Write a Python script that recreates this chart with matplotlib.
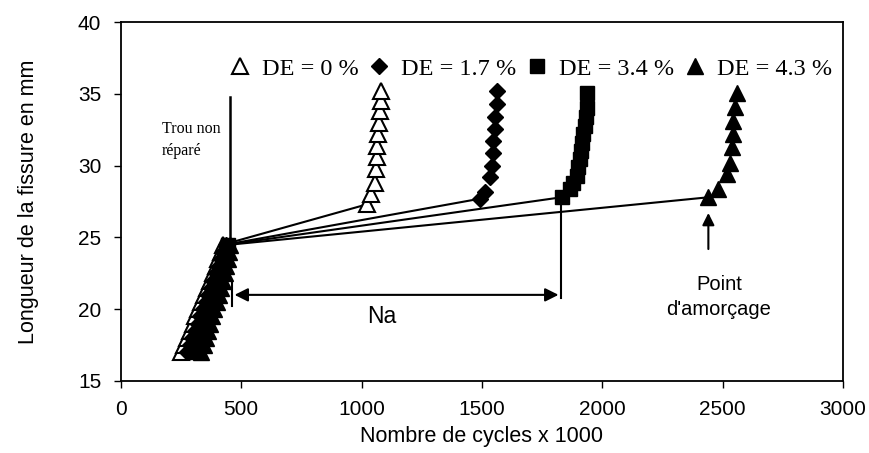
import numpy as np
import matplotlib.pyplot as plt

# initial (hole) branch, shared by the four series, then jump + upper branch
y_init = [17.0, 17.5, 18.0, 18.5, 19.0, 19.5, 20.0, 20.5, 21.0, 21.5, 22.0, 22.5, 23.0, 23.5, 24.0, 24.5]
x_init_0 = [250, 262, 274, 286, 298, 310, 322, 334, 346, 358, 370, 382, 394, 405, 415, 425]
x_init_17 = [275, 286, 297, 308, 319, 330, 341, 352, 363, 374, 385, 396, 406, 416, 426, 436]
x_init_34 = [300, 310, 320, 330, 340, 350, 360, 370, 380, 390, 400, 410, 420, 430, 438, 445]
x_init_43 = [335, 344, 353, 362, 371, 380, 389, 398, 407, 415, 423, 431, 438, 444, 450, 455]

x_up_0 = [1021, 1041, 1056, 1060, 1063, 1065, 1069, 1074, 1076, 1079, 1083]
y_up_0 = [27.3, 28.0, 28.8, 29.75, 30.6, 31.4, 32.2, 33.0, 33.8, 34.5, 35.2]
x_up_17 = [1492, 1513, 1534, 1541, 1548, 1548, 1554, 1554, 1561, 1561]
y_up_17 = [27.7, 28.2, 29.2, 30.0, 30.9, 31.7, 32.55, 33.4, 34.3, 35.2]
x_up_34 = [1831, 1866, 1880, 1894, 1900, 1908, 1912, 1915, 1922, 1929, 1932, 1936, 1936]
y_up_34 = [27.8, 28.35, 28.8, 29.3, 29.9, 30.45, 31.0, 31.6, 32.2, 32.8, 33.4, 34.0, 35.1]
x_up_43 = [2441, 2482, 2517, 2531, 2538, 2545, 2545, 2552, 2559]
y_up_43 = [27.8, 28.35, 29.4, 30.2, 31.3, 32.2, 33.1, 34.1, 35.1]

labels = ["DE = 0 %", "DE = 1.7 %", "DE = 3.4 %", "DE = 4.3 %"]

fig = plt.figure(figsize=(8.69, 4.53), dpi=100)
ax = fig.add_axes([0.139, 0.159, 0.831, 0.792])

series = [
    (x_init_0, x_up_0, y_up_0, dict(marker="^", mfc="white", mec="black", ms=11, mew=1.5)),
    (x_init_17, x_up_17, y_up_17, dict(marker="D", mfc="black", mec="black", ms=8.5)),
    (x_init_34, x_up_34, y_up_34, dict(marker="s", mfc="black", mec="black", ms=10)),
    (x_init_43, x_up_43, y_up_43, dict(marker="^", mfc="black", mec="black", ms=11.5)),
]
handles = []
for (xi, xu, yu, mk), lab in zip(series, labels):
    # jump line from end of initial branch to start of upper branch
    ax.plot([xi[-1], xu[0]], [y_init[-1], yu[0]], color="black", lw=1.5, zorder=2)
    ax.plot(xi, y_init, ls="none", zorder=3, **mk)
    h, = ax.plot(xu, yu, ls="none", zorder=3, label=lab, **mk)
    handles.append(h)

ax.set_xlim(0, 3000)
ax.set_ylim(15, 40)
ax.set_xticks(np.arange(0, 3001, 500))
ax.set_yticks(np.arange(15, 41, 5))
ax.tick_params(direction="out", length=5, width=1.0, labelsize=15, pad=9)
for s in ax.spines.values():
    s.set_linewidth(1.3)
ax.set_xlabel("Nombre de cycles x 1000", fontsize=15.5, family="Liberation Sans", labelpad=5)
ax.set_ylabel("Longueur de la fissure en mm", fontsize=15.5, family="Liberation Sans", labelpad=28)
for t in ax.get_xticklabels() + ax.get_yticklabels():
    t.set_family("Liberation Sans")

# "Trou non réparé"
ax.plot([453, 453], [34.8, 24.6], color="black", lw=1.8)
ax.text(170, 31.8, "Trou non\nréparé", family="Liberation Serif", fontsize=11.5,
        ha="left", va="center", linespacing=1.5)

# Na arrow
ax.plot([1830, 1830], [27.8, 20.8], color="black", lw=1.5)
ax.plot([461, 461], [21.9, 20.2], color="black", lw=1.5)
ax.annotate("", xy=(461, 21.0), xytext=(1830, 21.0),
            arrowprops=dict(arrowstyle="<|-|>", color="black", lw=1.5, mutation_scale=20))
ax.text(1085, 19.5, "Na", fontsize=16.5, family="Liberation Sans", ha="center", va="center")

# Point d'amorçage
ax.annotate("", xy=(2441, 26.9), xytext=(2441, 24.0),
            arrowprops=dict(arrowstyle="-|>", color="black", lw=1.5, mutation_scale=18))
ax.text(2485, 20.85, "Point\nd'amorçage", fontsize=14.5, family="Liberation Sans",
        ha="center", va="center", linespacing=1.45)

ax.legend(handles=handles, loc="center left", bbox_to_anchor=(0.14, 0.87), ncol=4,
          frameon=False, handlelength=0.7, handletextpad=0.55, columnspacing=0.5,
          borderaxespad=0, prop=dict(family="Liberation Serif", size=17.5))

fig.savefig("out.png", dpi=100)
